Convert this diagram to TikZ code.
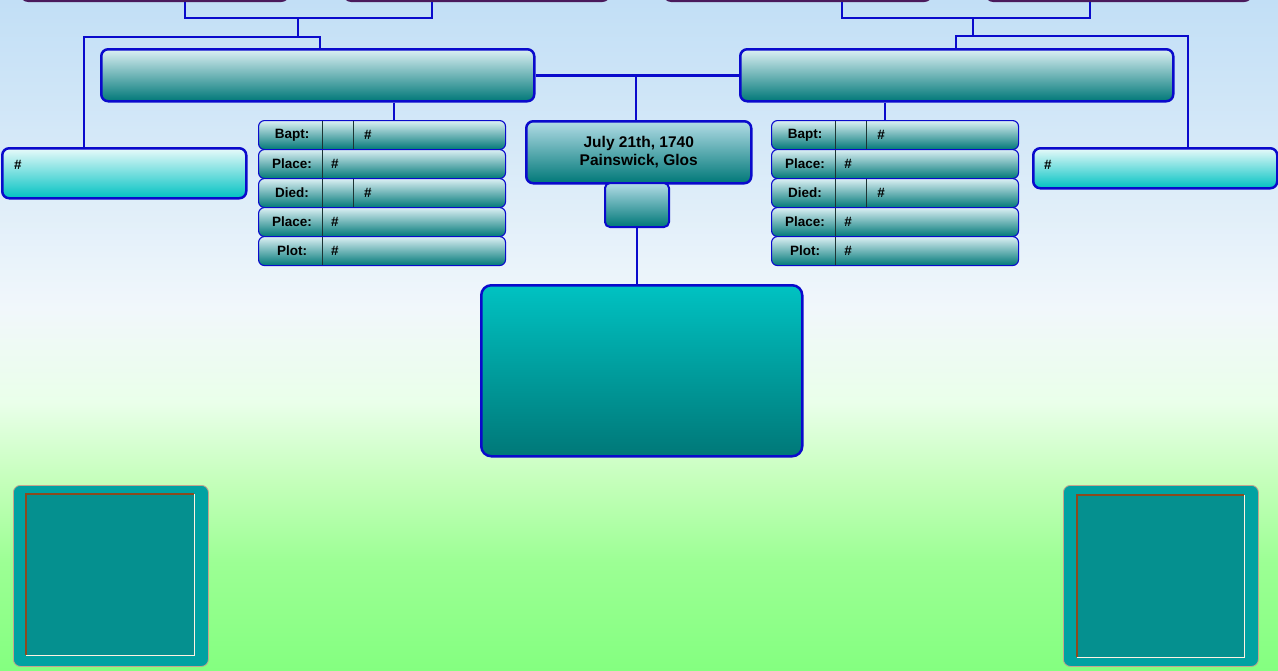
\documentclass[tikz,border=0pt]{standalone}
\usepackage{fontspec}
\setmainfont{Liberation Sans}
\usepackage{xcolor}
\definecolor{linkBlue}{HTML}{0A0ACC}
\definecolor{frameMauve}{HTML}{4A1A5C}
\definecolor{tealDeep}{HTML}{007878}
\definecolor{tealPale}{HTML}{DCF0F4}
\definecolor{dateTop}{HTML}{B2DCE6}
\definecolor{cyanBright}{HTML}{00C2C2}
\definecolor{cyanPale}{HTML}{E8FAFA}
\definecolor{tealMid}{HTML}{00A2A2}
\definecolor{tealFelt}{HTML}{05908F}
\definecolor{edgeBrown}{HTML}{8A4A1E}
\definecolor{edgeCream}{HTML}{FFF2E2}
\definecolor{divDark}{HTML}{1C3434}
\definecolor{skyTop}{HTML}{C2DFF6}
\definecolor{skyMid}{HTML}{D6E9F8}
\definecolor{skyHaze}{HTML}{F1F7FB}
\definecolor{meadowPale}{HTML}{EAFFEA}
\definecolor{meadowMid}{HTML}{C4FFBA}
\definecolor{meadowLow}{HTML}{9CFF94}
\definecolor{meadowDeep}{HTML}{84FF80}
\usetikzlibrary{calc, positioning}
% stops kept inside 25bp--75bp, the part that TikZ fits to the path
\pgfdeclareverticalshading{skyMeadow}{100bp}{color(0bp)=(meadowDeep); color(25bp)=(meadowDeep); color(33bp)=(meadowLow); color(39bp)=(meadowMid); color(45bp)=(meadowPale); color(52bp)=(skyHaze); color(64bp)=(skyMid); color(75bp)=(skyTop); color(100bp)=(skyTop)}
\newcommand{\boxFont}{\bfseries\fontsize{13.5}{15}\selectfont}

\begin{document}
\begin{tikzpicture}[x=1pt, y=-1pt,
    link/.style={draw=linkBlue, line width=2.5pt},
    cardbox/.style={draw=linkBlue, line width=2.5pt, rounded corners=7pt, anchor=north west,
                    inner sep=0pt, top color=tealPale, bottom color=tealDeep},
    sidebox/.style={cardbox, top color=cyanPale, bottom color=cyanBright},
    rowbox/.style={draw=linkBlue, line width=1.1pt, rounded corners=6pt, anchor=north west,
                   inner sep=0pt, minimum width=247pt, minimum height=29pt,
                   top color=tealPale, bottom color=tealDeep},
    topbox/.style={draw=frameMauve, line width=2.5pt, rounded corners=7pt, anchor=south west,
                   inner sep=0pt, minimum height=60pt},
    feltbox/.style={fill=tealFelt, anchor=north west, inner sep=0pt},
    boxtext/.style={font=\boxFont, text=black, inner sep=0pt}]

  \useasboundingbox (0,0) rectangle (1278,670);
  \clip (0,0) rectangle (1278,670);
  \shade[shading=skyMeadow] (0,0) rectangle (1278,670);

  % great-grandparents, cut off by the top edge
  \node[topbox, minimum width=267pt] (topA) at (20,2) {};
  \node[topbox, minimum width=265pt] (topB) at (343,2) {};
  \node[topbox, minimum width=267pt] (topC) at (663,2) {};
  \node[topbox, minimum width=265pt] (topD) at (985,2) {};

  % parents and their other children
  \node[cardbox, minimum width=433pt, minimum height=52pt] (bigL) at (100,48) {};
  \node[cardbox, minimum width=433pt, minimum height=52pt] (bigR) at (739,48) {};
  \node[sidebox, minimum width=244pt, minimum height=50pt] (sibL) at (1,147) {};
  \node[sidebox, minimum width=244pt, minimum height=40pt] (sibR) at (1032,147) {};
  \node[boxtext, anchor=west] (sibLtxt) at (14,165) {\#};
  \node[boxtext, anchor=west] (sibRtxt) at (1044,165) {\#};

  % date, stub and main card
  \node[cardbox, top color=dateTop, minimum width=225pt, minimum height=62pt,
        font=\bfseries\fontsize{15.5}{18}\selectfont, align=center] (dateBox) at (525,120)
        {July 21th, 1740\\Painswick, Glos};
  \node[cardbox, top color=dateTop, line width=2pt, rounded corners=5pt,
        minimum width=64pt, minimum height=44pt] (stubBox) at (604,182) {};
  \node[cardbox, rounded corners=10pt, top color=cyanBright, bottom color=tealDeep,
        minimum width=321pt, minimum height=171pt] (mainBox) at (480,284) {};

  % fact rows on both sides
  \foreach \side/\sx in {L/258, R/771} {
    \foreach \lab/\split [count=\i from 0] in {Bapt:/1, Place:/0, Died:/1, Place:/0, Plot:/0} {
      \node[rowbox] (row\side\i) at (\sx, 120+29*\i) {};
      \node[boxtext] (lab\side\i) at ($(row\side\i.west)+(34,0)$) {\lab};
      \draw[divDark, line width=0.9pt] ($(row\side\i.north west)+(64,1)$) -- ($(row\side\i.south west)+(64,-1)$);
      \ifnum\split=1
        \draw[divDark, line width=0.9pt] ($(row\side\i.north west)+(95,1)$) -- ($(row\side\i.south west)+(95,-1)$);
        \node[boxtext] (val\side\i) at ($(row\side\i.west)+(110,0)$) {\#};
      \else
        \node[boxtext] (val\side\i) at ($(row\side\i.west)+(77,0)$) {\#};
      \fi
    }
  }

  % corner frames
  \node[fill=tealMid, draw=edgeBrown!50, line width=0.8pt, rounded corners=7pt, anchor=north west,
        inner sep=0pt, minimum width=195pt, minimum height=181pt] (frameL) at (13,485) {};
  \node[feltbox, minimum width=168pt, minimum height=161pt] (feltL) at (26,494) {};
  \node[fill=tealMid, draw=edgeBrown!50, line width=0.8pt, rounded corners=7pt, anchor=north west,
        inner sep=0pt, minimum width=195pt, minimum height=181pt] (frameR) at (1063,485) {};
  \node[feltbox, minimum width=167pt, minimum height=162pt] (feltR) at (1077,495) {};
  \foreach \f in {feltL, feltR} {
    \draw[edgeBrown, line width=1.2pt] (\f.south west) -- (\f.north west) -- (\f.north east);
    \draw[edgeCream, line width=1.2pt] (\f.north east) -- (\f.south east) -- (\f.south west);
  }

  % connectors
  \coordinate (joinL) at (298,18);
  \coordinate (forkL) at (298,37);
  \coordinate (joinR) at (973,18);
  \coordinate (forkR) at (973,36);
  \draw[link] (topA.south -| 185,0) |- (joinL) -| (topB.south -| 432,0);
  \draw[link] (joinL) -- (forkL);
  \draw[link] (sibL.north -| 84,0) |- (forkL) -| (bigL.north -| 320,0);
  \draw[link] (topC.south -| 842,0) |- (joinR) -| (topD.south -| 1090,0);
  \draw[link] (joinR) -- (forkR);
  \draw[link] (sibR.north -| 1188,0) |- (forkR) -| (bigR.north -| 956,0);
  \draw[link] (bigL.east) -- (bigR.west);
  \coordinate (hub) at (636,74);
  \draw[link] (hub) -- (dateBox.north -| hub);
  \draw[link] (bigL.south -| 394,0) -- (rowL0.north -| 394,0);
  \draw[link] (bigR.south -| 885,0) -- (rowR0.north -| 885,0);
  \draw[link] (stubBox.south) -- (stubBox.south |- mainBox.north);
\end{tikzpicture}
\end{document}
